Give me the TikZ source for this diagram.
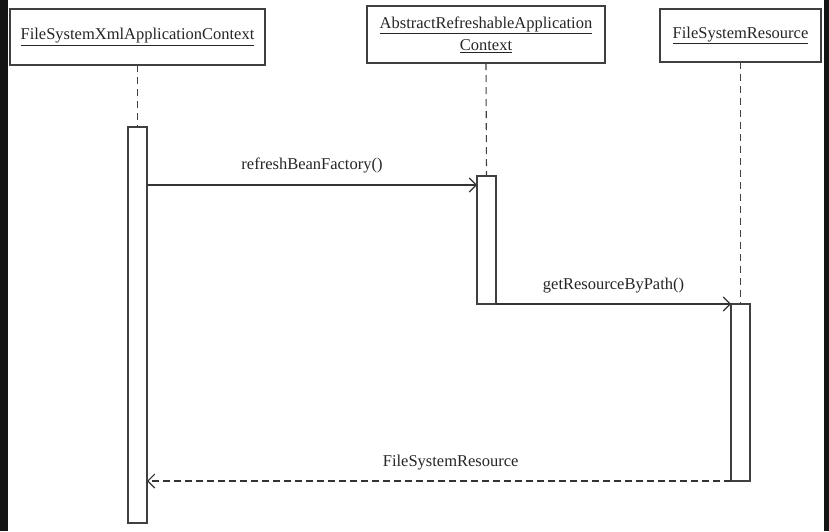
\documentclass[tikz,border=0pt]{standalone}
\usepackage{fontspec}
\setmainfont{Liberation Serif}
\usetikzlibrary{arrows.meta}

\begin{document}
\begin{tikzpicture}[
    x=1pt, y=-1pt,
    objbox/.style={draw=black!75, line width=1.1pt, fill=white, font=\fontsize{16.5}{22}\selectfont, align=center, inner sep=0pt},
    actbar/.style={draw=black!75, line width=1.1pt, fill=white, minimum width=19pt, inner sep=0pt},
    lifeline/.style={draw=black!75, line width=1.1pt, dash pattern=on 7pt off 5pt},
    msg/.style={draw=black!80, line width=1.1pt, -{Straight Barb[length=7pt, width=14pt]}},
    reply/.style={msg, dash pattern=on 7pt off 4pt},
    msglabel/.style={font=\fontsize{16.5}{19}\selectfont, text=black!85, inner sep=2pt},
    every node/.style={outer sep=0pt}
]
\useasboundingbox (0,0) rectangle (829,531);
\fill[white] (0,0) rectangle (829,531);

% screenshot edges
\fill[black!92] (0,0) rectangle (8,531);
\fill[black!92] (824,0) rectangle (829,531);

% Objects
\node[objbox, text=black!85, minimum width=255pt, minimum height=56pt] (fsxac) at (137.5,37) {\underline{FileSystemXmlApplicationContext}};
\node[objbox, text=black!85, minimum width=238pt, minimum height=57pt] (arac) at (486,34.5) {\underline{AbstractRefreshableApplication}\\\underline{Context}};
\node[objbox, text=black!85, minimum width=161pt, minimum height=53pt] (fsres) at (740.5,35.5) {\underline{FileSystemResource}};

% Activation bars
\node[actbar, minimum height=396pt] (bar1) at (137.5,325) {};
\node[actbar, minimum height=128pt] (bar2) at (486.5,240) {};
\node[actbar, minimum height=177pt] (bar3) at (740.5,392.5) {};

% Lifelines
\draw[lifeline] (fsxac.south) -- (bar1.north);
\draw[lifeline] (arac.south) -- (bar2.north);
\draw[lifeline] (fsres.south) -- (bar3.north);

% Messages
\coordinate (m1) at (0,185);
\draw[msg] (bar1.east |- m1) -- node[msglabel, above=10pt] (lrefresh) {refreshBeanFactory()} (bar2.west |- m1);
\draw[msg] (bar2.south east) -- node[msglabel, above=9pt] (lgetres) {getResourceByPath()} (bar3.north west);
\draw[reply] (bar3.south west) -- node[msglabel, above=9pt, pos=0.48] (lreturn) {FileSystemResource} (bar1.east |- bar3.south);

\end{tikzpicture}
\end{document}
